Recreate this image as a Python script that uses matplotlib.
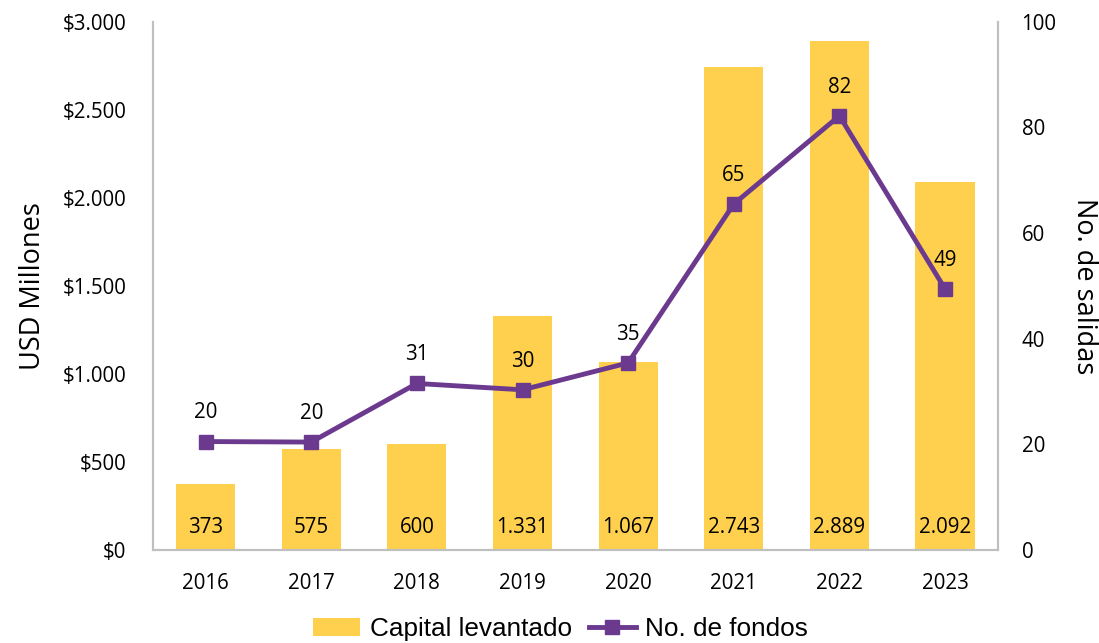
import matplotlib.pyplot as plt
import numpy as np
from matplotlib.ticker import FuncFormatter

years = ["2016", "2017", "2018", "2019", "2020", "2021", "2022", "2023"]
capital = [373, 575, 600, 1331, 1067, 2743, 2889, 2092]
fondos = [20.5, 20.4, 31.5, 30.3, 35.4, 65.5, 82.2, 49.4]
fondos_labels = ["20", "20", "31", "30", "35", "65", "82", "49"]

YELLOW = "#FFD04D"
PURPLE = "#6B3A8F"
GRAY = "#BFBFBF"

plt.rcParams['font.family'] = ['Open Sans', 'DejaVu Sans']

fig = plt.figure(figsize=(10.99, 6.43), dpi=100)
ax = fig.add_axes([0.139, 0.145, 0.769, 0.821])
ax2 = ax.twinx()

x = np.arange(len(years))
bars = ax.bar(x, capital, width=0.56, color=YELLOW, zorder=2, label="Capital levantado")
for xi, v in zip(x, capital):
    ax.text(xi, 125, f"{v:,}".replace(",", "."), ha="center", va="center", fontsize=14.8)

ax.set_xlim(-0.5, len(years) - 0.5)
ax.set_ylim(0, 3000)
ax.set_yticks(np.arange(0, 3001, 500))
ax.yaxis.set_major_formatter(FuncFormatter(lambda v, p: "$" + f"{int(v):,}".replace(",", ".")))
ax.set_xticks(x)
ax.set_xticklabels(years)
ax.tick_params(axis="y", length=0, labelsize=14.8, pad=19)
ax.tick_params(axis="x", length=0, labelsize=14.8, pad=17)
ax.set_ylabel("USD Millones", fontsize=19.5, labelpad=11)

line, = ax2.plot(x, fondos, color=PURPLE, lw=3.5, marker="s", markersize=10, zorder=3,
                 label="No. de fondos")
for xi, v, lab in zip(x, fondos, fondos_labels):
    ax2.annotate(lab, (xi, v), xytext=(0, 13), textcoords="offset points",
                 ha="center", va="bottom", fontsize=14.8)
ax2.set_ylim(0, 100)
ax2.set_yticks(np.arange(0, 101, 20))
ax2.tick_params(axis="y", length=0, labelsize=14.8, pad=17)
ax2.set_ylabel("No. de salidas", fontsize=19.5, rotation=-90, labelpad=30)

for a in (ax, ax2):
    a.spines["top"].set_visible(False)
    for s in ("left", "right", "bottom"):
        a.spines[s].set_color(GRAY)
        a.spines[s].set_linewidth(1.5)

leg = fig.legend(handles=[bars, line], loc="lower center", bbox_to_anchor=(0.51, -0.03),
                 ncol=2, frameon=False, handlelength=1.8, columnspacing=0.65, handletextpad=0.35,
                 borderpad=0.3, prop={"family": "Liberation Sans", "size": 18.8})

fig.savefig("out.png", dpi=100)
